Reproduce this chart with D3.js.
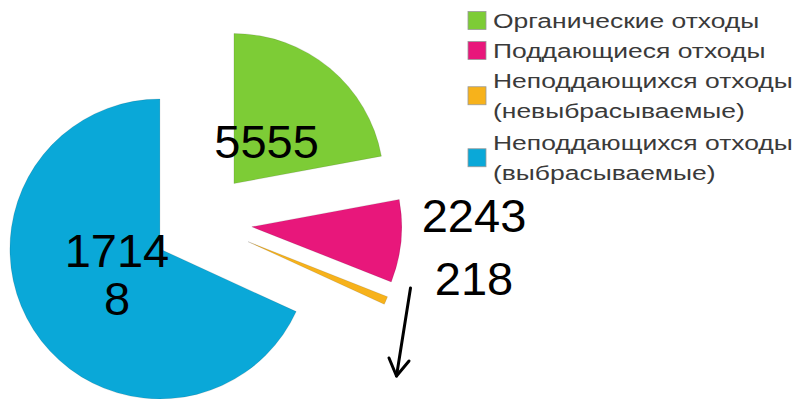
<!DOCTYPE html>
<html>
<head>
<meta charset="utf-8">
<script src="https://cdn.jsdelivr.net/npm/d3@7"></script>
<style>
  html, body { margin: 0; padding: 0; background: #fff; }
  svg { display: block; }
</style>
</head>
<body>
<svg id="chart" width="801" height="399"></svg>
<script>
// Waste composition
const categories = [
  "Органические отходы",
  "Поддающиеся отходы",
  "Неподдающихся отходы\n(невыбрасываемые)",
  "Неподдающихся отходы\n(выбрасываемые)"
];
const values = [5555, 2243, 218, 17148];
const colors = ["#7dcc36", "#e8177b", "#f7b21b", "#0aa8d8"];

const width = 801, height = 399;
const cx = 202, cy = 222;      // pie centre
const radius = 150;
const explode = 50;            // every slice pulled out by the same distance

const svg = d3.select("#chart");
const font = "'Liberation Sans', Arial, sans-serif";

const pie = d3.pie().sort(null).value(d => d.value);
const arc = d3.arc().innerRadius(0).outerRadius(radius);

const data = values.map((v, i) => ({ value: v, name: categories[i], color: colors[i] }));
const arcs = pie(data);

function offset(a, dist) {
  const mid = (a.startAngle + a.endAngle) / 2;
  return [Math.sin(mid) * dist, -Math.cos(mid) * dist];
}

const g = svg.append("g").attr("transform", `translate(${cx},${cy})`);

g.selectAll("path.slice")
  .data(arcs)
  .join("path")
  .attr("class", "slice")
  .attr("transform", d => `translate(${offset(d, explode)})`)
  .attr("d", arc)
  .attr("fill", d => d.data.color)
  .attr("stroke", "rgba(0,0,0,0.18)")
  .attr("stroke-width", 0.6);

// Data labels: the two big slices carry theirs inside, the narrow ones outside
const labelSize = 47;
const insideDist = 51;         // distance from slice apex along its bisector
const outsidePos = { 1: [474, 232], 2: [474, 295] }; // baselines, absolute

const labels = svg.append("g")
  .attr("font-family", font)
  .attr("font-size", labelSize)
  .attr("fill", "#000")
  .attr("text-anchor", "middle");

arcs.forEach((a, i) => {
  const txt = String(a.data.value);
  if (outsidePos[i]) {
    labels.append("text")
      .attr("x", outsidePos[i][0])
      .attr("y", outsidePos[i][1])
      .text(txt);
    return;
  }
  const [ox, oy] = offset(a, explode + insideDist);
  const lines = [];
  for (let k = 0; k < txt.length; k += 4) lines.push(txt.slice(k, k + 4));
  const lh = 48;
  const t = labels.append("text")
    .attr("x", cx + ox)
    .attr("y", cy + oy - (lines.length - 1) * lh / 2 + labelSize * 0.3);
  lines.forEach((ln, j) => {
    t.append("tspan")
      .attr("x", cx + ox)
      .attr("dy", j === 0 ? 0 : lh)
      .text(ln);
  });
});

// Arrow pointing down from the smallest slice
const arrow = svg.append("g")
  .attr("stroke", "#000")
  .attr("stroke-width", 3)
  .attr("fill", "none")
  .attr("stroke-linecap", "round")
  .attr("stroke-linejoin", "round");
const a0 = [410.5, 288], a1 = [396.5, 376];
arrow.append("line")
  .attr("x1", a0[0]).attr("y1", a0[1])
  .attr("x2", a1[0]).attr("y2", a1[1]);
arrow.append("path")
  .attr("d", d3.line()([[389, 358], a1, [409, 361]]));

// Legend
const legend = svg.append("g")
  .attr("font-family", font)
  .attr("font-size", 21)
  .attr("fill", "#3a3a3a");

const textX = 493, textScale = 1.26;
const lineH = 30.5;
let y = 28;
categories.forEach((name, i) => {
  const lines = name.split("\n");
  const top = y - 15;
  const bottom = y + (lines.length - 1) * lineH;
  const mid = (top + bottom) / 2;
  legend.append("rect")
    .attr("x", 468)
    .attr("y", mid - 9)
    .attr("width", 18)
    .attr("height", 18)
    .attr("fill", colors[i])
    .attr("stroke", "#9a9a9a")
    .attr("stroke-width", 0.8);
  const t = legend.append("text")
    .attr("transform", `translate(${textX},0) scale(${textScale},1)`)
    .attr("x", 0)
    .attr("y", y);
  lines.forEach((ln, j) => {
    t.append("tspan").attr("x", 0).attr("dy", j === 0 ? 0 : lineH).text(ln);
  });
  y += lines.length * lineH + (lines.length > 1 ? 1 : -0.5);
});
</script>
</body>
</html>
